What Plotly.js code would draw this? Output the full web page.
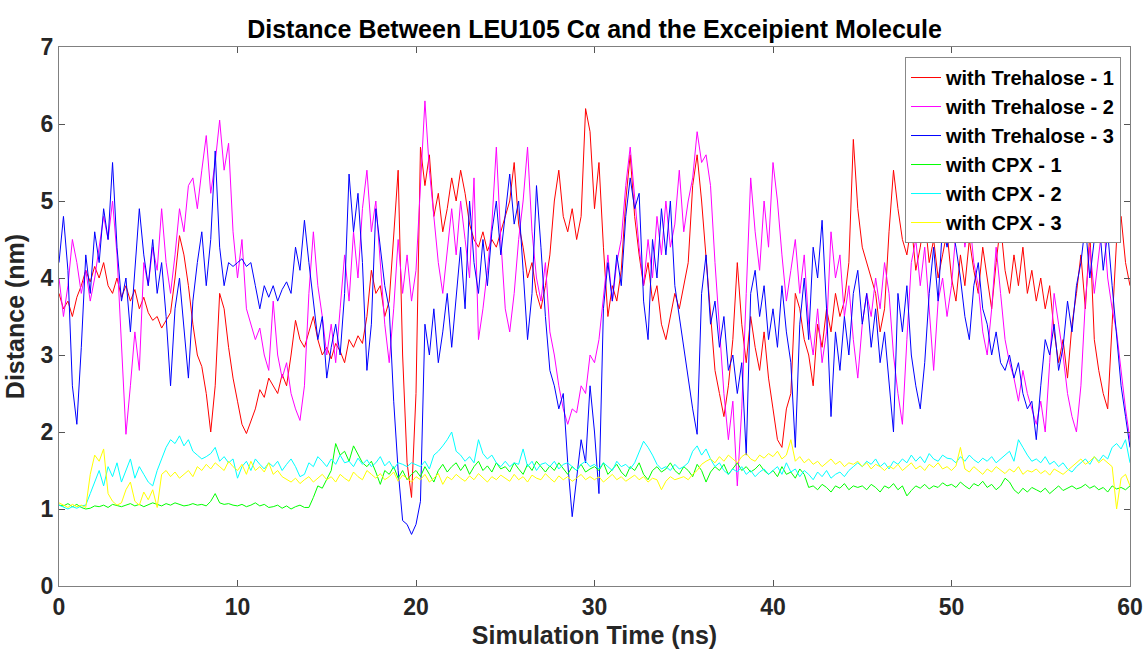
<!DOCTYPE html>
<html>
<head>
<meta charset="utf-8">
<script src="https://cdn.plot.ly/plotly-3.0.1.min.js"></script>
<style>html,body{margin:0;padding:0;background:#fff;}#chart{width:1145px;height:652px;}</style>
</head>
<body>
<div id="chart"></div>
<script>
// Sampling step of the traces (ns); values read every 0.25 ns from 0 to 60 ns
const timeStep = 0.25;

const seriesNames = ["with Trehalose - 1", "with Trehalose - 2", "with Trehalose - 3",
                     "with CPX - 1", "with CPX - 2", "with CPX - 3"];

const trehalose1 = [
 3.8,3.6,3.7,3.5,3.75,3.9,4.1,3.95,4.15,4.0,4.2,3.9,3.8,4.0,3.75,3.9,3.7,3.85,3.6,3.75,
 3.55,3.45,3.5,3.35,3.45,3.55,4.0,4.55,4.3,3.9,3.4,3.0,2.85,2.5,2.0,2.6,3.8,3.6,3.1,2.7,
 2.4,2.1,1.98,2.15,2.3,2.55,2.45,2.7,2.6,2.5,2.75,2.6,3.0,3.45,3.2,3.1,3.3,3.5,3.2,3.0,
 3.1,2.95,3.15,3.05,2.9,3.2,3.1,3.25,3.15,3.5,4.1,3.8,3.9,3.5,3.7,4.6,5.4,3.0,1.6,1.15,
 2.5,5.7,5.2,5.6,4.8,5.1,4.6,4.9,5.3,5.0,5.4,5.1,4.7,4.5,4.4,4.6,4.35,4.5,4.4,4.6,
 4.8,5.0,5.5,4.7,4.4,4.0,4.2,3.8,3.6,3.9,4.3,5.0,5.4,4.8,4.6,4.9,4.5,4.8,6.2,5.9,
 4.9,5.5,4.4,3.5,3.9,3.7,4.1,5.0,5.6,4.8,4.3,3.9,4.2,3.7,3.9,3.4,3.2,3.5,3.8,3.6,
 3.9,4.2,5.2,5.6,5.0,4.3,3.5,2.8,2.5,2.2,2.6,3.2,4.2,3.4,2.9,3.5,3.1,2.8,3.3,2.7,
 2.3,1.9,1.8,2.3,2.5,3.8,3.6,3.2,3.0,2.6,3.4,3.1,3.6,3.3,3.8,3.5,3.7,4.2,5.8,4.9,
 4.4,4.2,4.0,3.8,3.3,3.6,4.6,5.4,4.9,4.5,4.3,4.7,4.1,4.4,4.8,4.2,4.5,4.0,4.3,4.6,
 4.0,3.7,4.3,3.9,4.5,4.1,3.8,4.4,4.0,3.6,4.2,4.7,4.1,3.8,4.3,3.9,4.4,3.8,4.1,3.7,
 4.0,3.6,3.9,3.3,2.9,3.2,2.7,3.4,3.8,4.3,3.6,4.6,3.2,2.8,2.5,2.3,3.4,4.5,4.8,4.2,3.9
];

const trehalose2 = [
 4.0,3.5,3.9,4.5,4.2,3.8,4.1,3.7,4.0,4.4,4.8,4.5,5.0,4.3,3.2,1.97,2.6,3.3,2.8,4.2,
 3.9,4.4,4.1,4.9,4.2,3.8,4.3,4.9,4.6,5.2,5.3,4.9,5.4,5.85,5.1,5.5,6.05,5.4,5.75,4.6,
 4.0,4.5,3.6,3.4,3.2,3.35,3.0,2.8,3.7,3.0,2.7,2.9,2.5,2.3,2.15,2.6,3.8,4.6,3.9,3.5,
 3.0,3.4,2.9,3.6,4.3,3.7,4.6,4.0,4.9,5.4,4.6,5.0,4.2,3.4,2.9,3.6,4.5,3.8,4.3,3.7,
 4.1,5.2,6.3,5.4,4.8,4.2,3.8,4.4,4.9,4.3,5.0,4.5,4.0,5.3,3.2,3.6,4.1,4.7,5.7,4.5,
 3.6,3.3,3.8,4.5,5.0,5.7,4.6,4.0,3.7,4.2,3.3,3.0,2.6,2.3,2.1,2.3,2.25,2.6,2.5,3.0,
 2.9,3.2,3.8,4.3,3.7,4.2,4.5,5.2,5.7,5.0,4.4,3.9,4.5,4.0,4.8,4.3,5.0,4.4,4.7,5.4,
 4.6,5.0,5.3,5.9,5.5,5.6,5.2,4.2,3.3,2.5,1.9,2.4,1.3,2.3,3.8,5.3,4.6,4.1,5.0,4.4,
 5.5,5.0,4.3,3.7,4.1,4.5,3.8,4.3,3.4,3.0,3.6,2.9,3.3,4.6,4.0,4.3,3.5,3.9,3.2,2.7,
 3.4,3.8,3.5,4.0,3.6,4.2,3.8,3.0,2.5,2.1,3.2,4.2,4.5,3.9,4.4,3.6,2.8,3.7,4.0,3.5,
 3.9,4.6,5.0,4.4,4.8,4.2,3.9,3.3,3.0,3.6,4.4,3.8,3.2,2.9,2.7,2.4,2.8,2.5,2.3,2.1,
 2.4,2.0,2.9,3.8,3.4,3.0,2.5,2.2,2.0,2.6,3.7,4.4,3.8,4.3,4.8,4.0,3.6,3.3,2.8,2.3,1.9
];

const trehalose3 = [
 4.2,4.8,4.1,2.6,2.1,3.1,4.3,3.8,4.6,4.2,4.9,4.5,5.5,4.4,3.7,4.0,3.3,4.1,4.9,4.3,
 3.9,4.5,3.8,4.2,3.5,2.6,3.6,4.0,3.4,2.7,3.7,4.2,4.6,3.9,4.5,5.65,4.4,3.9,4.2,4.15,
 4.2,4.25,4.15,4.2,3.9,3.6,3.9,3.75,3.9,3.7,3.85,3.95,3.8,4.4,4.1,4.75,4.2,3.7,3.2,3.5,
 2.7,3.1,3.4,3.0,3.8,5.35,4.6,5.1,4.2,2.8,3.4,4.9,4.4,3.9,3.6,2.4,1.5,0.85,0.8,0.67,
 0.8,1.1,3.4,3.0,3.6,2.9,3.3,3.8,3.1,3.7,4.4,3.6,5.0,4.2,3.8,4.5,3.9,4.6,5.0,4.3,
 4.8,5.35,4.7,5.0,4.1,3.2,3.8,5.2,4.4,3.5,2.8,2.6,2.3,2.5,1.6,0.9,1.4,1.9,1.6,2.6,
 2.0,1.2,3.6,4.2,3.7,4.3,3.9,4.8,5.3,4.9,5.1,3.7,3.2,4.5,4.0,4.9,4.3,5.0,3.9,3.5,
 3.1,2.7,2.3,1.97,3.8,4.3,3.4,3.7,3.1,3.5,2.8,3.0,2.5,2.9,1.7,3.8,4.1,3.5,3.9,3.2,
 3.6,3.1,3.9,3.3,2.9,1.8,3.4,4.0,3.2,4.4,4.0,4.75,3.6,2.2,3.3,2.8,3.5,3.0,3.8,4.1,
 3.4,3.8,3.1,3.6,2.9,3.3,2.6,2.0,3.8,3.3,3.9,3.0,2.6,2.3,2.9,3.8,4.4,3.7,4.7,4.4,
 4.7,4.4,4.0,3.5,3.2,3.9,4.2,3.6,3.4,3.0,3.3,2.9,2.8,3.0,2.7,2.9,2.5,2.3,2.4,1.9,
 2.6,3.2,3.0,3.4,2.8,3.1,3.7,3.3,3.9,4.2,4.7,4.0,4.5,4.8,4.1,4.6,3.9,3.2,2.6,2.2,1.8
];

const cpx1 = [
 1.05,1.04,1.07,1.03,1.06,1.02,1.0,1.01,1.04,1.03,1.05,1.02,1.06,1.04,1.03,1.05,1.07,1.04,1.06,1.03,
 1.05,1.08,1.06,1.04,1.07,1.05,1.08,1.06,1.04,1.05,1.07,1.05,1.06,1.04,1.1,1.2,1.08,1.06,1.07,1.05,
 1.04,1.06,1.03,1.05,1.08,1.04,1.06,1.02,1.03,1.05,1.01,1.04,1.0,1.03,1.05,1.02,1.02,1.15,1.3,1.27,
 1.38,1.5,1.85,1.7,1.75,1.62,1.82,1.7,1.6,1.55,1.62,1.48,1.32,1.5,1.45,1.55,1.4,1.5,1.38,1.45,
 1.5,1.42,1.55,1.45,1.35,1.5,1.58,1.48,1.55,1.6,1.5,1.58,1.45,1.55,1.62,1.5,1.56,1.48,1.6,1.52,
 1.55,1.48,1.6,1.52,1.45,1.58,1.5,1.62,1.55,1.48,1.56,1.5,1.6,1.52,1.45,1.55,1.5,1.58,1.48,1.52,
 1.55,1.5,1.6,1.45,1.52,1.58,1.48,1.42,1.55,1.5,1.6,1.45,1.38,1.5,1.55,1.48,1.52,1.6,1.5,1.45,
 1.55,1.5,1.42,1.58,1.5,1.35,1.48,1.55,1.5,1.58,1.45,1.52,1.6,1.5,1.55,1.48,1.52,1.58,1.5,1.45,
 1.5,1.42,1.55,1.45,1.48,1.4,1.52,1.45,1.28,1.3,1.25,1.32,1.28,1.22,1.3,1.27,1.33,1.25,1.3,1.28,
 1.3,1.25,1.32,1.28,1.22,1.3,1.27,1.33,1.25,1.3,1.17,1.24,1.3,1.27,1.32,1.26,1.3,1.28,1.34,1.3,
 1.32,1.28,1.35,1.3,1.26,1.33,1.3,1.36,1.28,1.32,1.25,1.3,1.4,1.35,1.25,1.2,1.27,1.22,1.28,1.25,
 1.22,1.27,1.2,1.25,1.3,1.24,1.27,1.3,1.26,1.28,1.32,1.27,1.3,1.25,1.28,1.22,1.3,1.26,1.28,1.25,1.3
];

const cpx2 = [
 1.05,1.02,1.0,1.03,1.01,1.04,1.05,1.2,1.35,1.5,1.3,1.55,1.42,1.6,1.35,1.5,1.65,1.4,1.55,1.45,
 1.35,1.3,1.5,1.65,1.8,1.9,1.85,1.95,1.82,1.9,1.75,1.7,1.65,1.68,1.72,1.8,1.62,1.68,1.6,1.65,
 1.4,1.55,1.62,1.5,1.65,1.58,1.52,1.6,1.55,1.62,1.5,1.58,1.65,1.55,1.42,1.45,1.6,1.55,1.68,1.62,
 1.55,1.65,1.58,1.7,1.6,1.62,1.55,1.66,1.58,1.64,1.55,1.6,1.68,1.56,1.62,1.52,1.6,1.58,1.55,1.6,
 1.58,1.55,1.62,1.52,1.7,1.75,1.82,1.9,2.0,1.75,1.7,1.62,1.68,1.6,1.9,1.72,1.65,1.7,1.6,1.55,
 1.62,1.55,1.6,1.58,1.78,1.55,1.62,1.5,1.58,1.6,1.55,1.62,1.52,1.58,1.6,1.55,1.5,1.58,1.62,1.55,
 1.58,1.52,1.6,1.55,1.5,1.62,1.55,1.58,1.52,1.6,1.75,1.88,1.8,1.7,1.58,1.52,1.55,1.5,1.58,1.52,
 1.55,1.6,1.75,1.82,1.7,1.78,1.65,1.55,1.6,1.5,1.45,1.52,1.48,1.55,1.45,1.5,1.42,1.48,1.52,1.45,
 1.5,1.55,1.45,1.6,1.48,1.52,1.42,1.5,1.45,1.38,1.48,1.42,1.5,1.4,1.45,1.48,1.42,1.5,1.55,1.6,
 1.55,1.62,1.58,1.65,1.55,1.6,1.52,1.62,1.58,1.65,1.6,1.7,1.62,1.68,1.6,1.72,1.65,1.62,1.7,1.66,
 1.65,1.6,1.68,1.62,1.7,1.64,1.6,1.66,1.62,1.68,1.6,1.65,1.7,1.75,1.62,1.9,1.8,1.7,1.62,1.65,
 1.6,1.68,1.58,1.62,1.55,1.6,1.52,1.48,1.55,1.6,1.65,1.58,1.68,1.62,1.7,1.65,1.8,1.85,1.78,1.9,1.6
];

const cpx3 = [
 1.08,1.05,1.02,1.06,1.03,1.05,1.02,1.45,1.7,1.62,1.78,1.2,1.1,1.05,1.08,1.25,1.35,1.1,1.05,1.22,
 1.12,1.25,1.02,1.45,1.5,1.42,1.48,1.4,1.45,1.5,1.42,1.55,1.5,1.58,1.52,1.6,1.55,1.5,1.62,1.55,
 1.5,1.58,1.45,1.62,1.5,1.55,1.48,1.6,1.45,1.5,1.42,1.38,1.35,1.4,1.33,1.38,1.42,1.35,1.4,1.45,
 1.38,1.42,1.35,1.45,1.4,1.36,1.48,1.42,1.38,1.5,1.45,1.4,1.46,1.38,1.42,1.48,1.36,1.44,1.4,1.35,
 1.42,1.38,1.45,1.35,1.4,1.46,1.32,1.42,1.38,1.45,1.4,1.36,1.43,1.38,1.46,1.4,1.35,1.42,1.38,1.44,
 1.4,1.36,1.45,1.38,1.42,1.35,1.44,1.4,1.38,1.46,1.4,1.35,1.43,1.38,1.42,1.36,1.4,1.45,1.38,1.42,
 1.38,1.42,1.35,1.4,1.45,1.38,1.42,1.36,1.4,1.44,1.38,1.42,1.35,1.4,1.38,1.25,1.36,1.42,1.38,1.4,
 1.42,1.38,1.45,1.5,1.58,1.62,1.65,1.6,1.68,1.62,1.7,1.65,1.6,1.68,1.72,1.65,1.62,1.7,1.66,1.72,
 1.68,1.75,1.65,1.7,1.9,1.62,1.68,1.6,1.65,1.58,1.62,1.55,1.6,1.65,1.58,1.62,1.55,1.6,1.58,1.62,
 1.55,1.6,1.52,1.58,1.55,1.5,1.56,1.52,1.58,1.5,1.55,1.6,1.52,1.56,1.5,1.58,1.54,1.6,1.52,1.55,
 1.5,1.56,1.8,1.52,1.48,1.55,1.5,1.45,1.52,1.48,1.55,1.5,1.46,1.52,1.48,1.55,1.45,1.5,1.48,1.52,
 1.46,1.5,1.44,1.52,1.48,1.45,1.5,1.55,1.6,1.65,1.58,1.62,1.68,1.6,1.65,1.6,1.55,1.0,1.4,1.45,1.3
];

const seriesValues = [trehalose1, trehalose2, trehalose3, cpx1, cpx2, cpx3];
const seriesColors = ["#ff0000", "#ff00ff", "#0000ff", "#00ff00", "#00ffff", "#ffff00"];

const xTickVals = [0, 10, 20, 30, 40, 50, 60];
const yTickVals = [0, 1, 2, 3, 4, 5, 6, 7];

const FONT = "Liberation Sans, Arial, Helvetica, sans-serif";

const traces = seriesValues.map(function (vals, k) {
  const times = vals.map(function (_, i) { return i * timeStep; });
  return {
    type: "scatter",
    mode: "lines",
    name: seriesNames[k],
    x: times,
    y: vals,
    line: { color: seriesColors[k], width: 1 }
  };
});

const axisCommon = {
  showgrid: false,
  zeroline: false,
  showline: true,
  linecolor: "#808080",
  linewidth: 1,
  mirror: "ticks",
  ticks: "inside",
  ticklen: 6,
  tickcolor: "#555555",
  tickfont: { family: FONT, size: 23, color: "#262626", weight: 700 }
};

const layout = {
  width: 1145,
  height: 652,
  paper_bgcolor: "#ffffff",
  plot_bgcolor: "#ffffff",
  margin: { l: 59, r: 15, t: 47, b: 66 },
  title: {
    text: "Distance Between LEU105 Cα and the Exceipient Molecule",
    font: { family: FONT, size: 25, color: "#000000", weight: 700 },
    x: 0.5193, xanchor: "center",
    y: 1 - 29 / 652, yanchor: "middle", yref: "container"
  },
  xaxis: Object.assign({}, axisCommon, {
    range: [0, 60],
    tickvals: xTickVals,
    title: { text: "Simulation Time (ns)", font: { family: FONT, size: 25, color: "#262626", weight: 700 }, standoff: 7 }
  }),
  yaxis: Object.assign({}, axisCommon, {
    range: [0, 7],
    tickvals: yTickVals,
    title: { text: "Distance (nm)", font: { family: FONT, size: 25, color: "#262626", weight: 700 }, standoff: 8 }
  }),
  showlegend: true,
  legend: {
    x: 0.9916, xanchor: "right",
    y: 0.9814, yanchor: "top",
    bgcolor: "#ffffff",
    bordercolor: "#888888",
    borderwidth: 1,
    font: { family: FONT, size: 20, color: "#000000", weight: 700 },
    tracegroupgap: 0
  }
};

Plotly.newPlot("chart", traces, layout, { displayModeBar: false, staticPlot: true });
</script>
</body>
</html>
